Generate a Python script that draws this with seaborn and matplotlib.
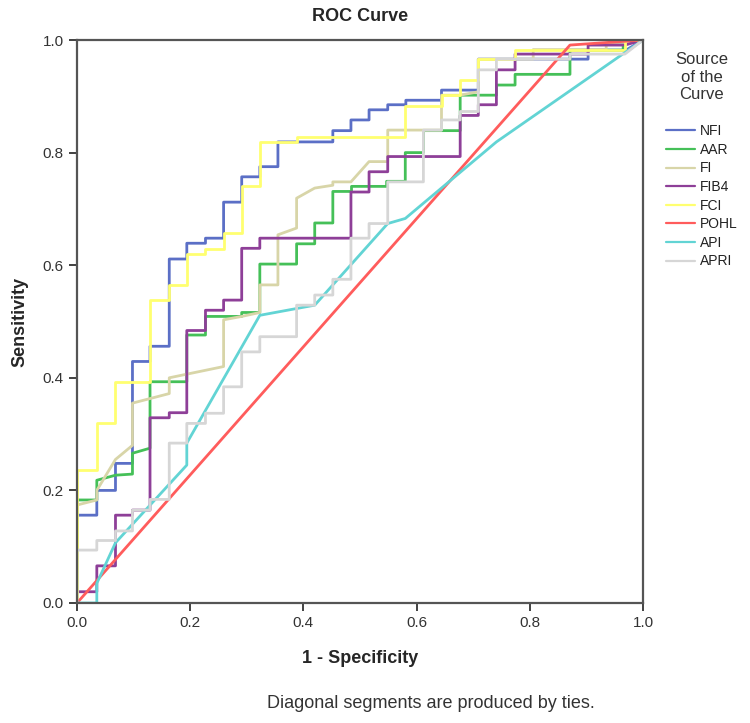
import numpy as np
import pandas as pd
import seaborn as sns
import matplotlib
matplotlib.use("Agg")
import matplotlib.pyplot as plt

# ROC curve vertices (1 - specificity, sensitivity)
nfi_x = [0, 0, 0.035, 0.035, 0.068, 0.068, 0.098, 0.098, 0.129, 0.129, 0.163, 0.163, 0.194, 0.194,
         0.227, 0.227, 0.259, 0.259, 0.291, 0.291, 0.323, 0.323, 0.355, 0.355, 0.452, 0.452, 0.484,
         0.484, 0.516, 0.516, 0.549, 0.549, 0.581, 0.581, 0.644, 0.644, 0.709, 0.709, 0.903, 0.903,
         0.97, 1]
nfi_y = [0, 0.156, 0.156, 0.2, 0.2, 0.248, 0.248, 0.429, 0.429, 0.456, 0.456, 0.611, 0.611, 0.639,
         0.639, 0.648, 0.648, 0.712, 0.712, 0.757, 0.757, 0.775, 0.775, 0.819, 0.819, 0.839, 0.839,
         0.858, 0.858, 0.876, 0.876, 0.885, 0.885, 0.893, 0.893, 0.911, 0.911, 0.966, 0.966, 0.982,
         0.982, 1]

aar_x = [0, 0, 0.035, 0.035, 0.068, 0.098, 0.098, 0.129, 0.129, 0.194, 0.194, 0.227, 0.227, 0.291,
         0.291, 0.323, 0.323, 0.388, 0.388, 0.42, 0.42, 0.452, 0.452, 0.485, 0.485, 0.547, 0.547,
         0.58, 0.58, 0.612, 0.612, 0.677, 0.677, 0.741, 0.741, 0.774, 0.774, 0.871, 0.871, 0.965,
         0.965, 1]
aar_y = [0, 0.183, 0.183, 0.218, 0.227, 0.229, 0.266, 0.275, 0.393, 0.393, 0.476, 0.476, 0.509,
         0.509, 0.516, 0.516, 0.602, 0.602, 0.638, 0.638, 0.675, 0.675, 0.731, 0.731, 0.74, 0.74,
         0.749, 0.749, 0.80, 0.80, 0.839, 0.839, 0.902, 0.902, 0.92, 0.92, 0.939, 0.939, 0.982,
         0.982, 1, 1]

fi_x = [0, 0, 0.035, 0.035, 0.068, 0.098, 0.098, 0.163, 0.163, 0.259, 0.259, 0.291, 0.323, 0.323,
        0.355, 0.355, 0.388, 0.388, 0.42, 0.452, 0.452, 0.484, 0.516, 0.549, 0.549, 0.644, 0.644,
        0.677, 0.709, 0.709, 0.806, 0.806, 0.935, 0.935, 0.968, 1]
fi_y = [0, 0.174, 0.183, 0.2, 0.255, 0.28, 0.355, 0.372, 0.40, 0.42, 0.503, 0.509, 0.516, 0.565,
        0.565, 0.654, 0.666, 0.719, 0.737, 0.742, 0.748, 0.748, 0.784, 0.784, 0.84, 0.84, 0.902,
        0.902, 0.908, 0.966, 0.966, 0.983, 0.983, 0.994, 0.994, 1]

fib4_x = [0, 0, 0.035, 0.035, 0.068, 0.068, 0.098, 0.098, 0.129, 0.129, 0.163, 0.163, 0.194, 0.194,
          0.227, 0.227, 0.259, 0.259, 0.291, 0.291, 0.323, 0.323, 0.484, 0.484, 0.516, 0.516,
          0.549, 0.549, 0.677, 0.677, 0.709, 0.709, 0.741, 0.741, 0.774, 0.774, 0.903, 0.903,
          0.968, 1]
fib4_y = [0, 0.02, 0.02, 0.066, 0.066, 0.156, 0.156, 0.165, 0.165, 0.329, 0.329, 0.338, 0.338,
          0.484, 0.484, 0.52, 0.52, 0.538, 0.538, 0.63, 0.63, 0.648, 0.648, 0.73, 0.73, 0.766,
          0.766, 0.793, 0.793, 0.866, 0.866, 0.885, 0.885, 0.947, 0.947, 0.975, 0.975, 0.991,
          0.991, 1]

fci_x = [0, 0, 0.035, 0.035, 0.068, 0.068, 0.129, 0.129, 0.163, 0.163, 0.194, 0.194, 0.227, 0.227,
         0.259, 0.259, 0.291, 0.291, 0.323, 0.323, 0.388, 0.388, 0.58, 0.58, 0.644, 0.644, 0.677,
         0.677, 0.709, 0.709, 0.774, 0.774, 0.968, 0.968, 1]
fci_y = [0, 0.236, 0.236, 0.319, 0.319, 0.393, 0.393, 0.538, 0.538, 0.565, 0.565, 0.62, 0.62,
         0.629, 0.629, 0.657, 0.657, 0.74, 0.74, 0.819, 0.819, 0.828, 0.828, 0.883, 0.883, 0.902,
         0.902, 0.929, 0.929, 0.966, 0.966, 0.983, 0.983, 1, 1]

pohl_x = [0, 0.871, 1]
pohl_y = [0, 0.991, 1]

api_x = [0, 0.035, 0.035, 0.068, 0.194, 0.194, 0.323, 0.42, 0.549, 0.58, 0.741, 1]
api_y = [0, 0, 0.035, 0.107, 0.245, 0.284, 0.511, 0.529, 0.674, 0.683, 0.819, 1]

apri_x = [0, 0, 0.035, 0.035, 0.068, 0.068, 0.098, 0.098, 0.129, 0.129, 0.163, 0.163, 0.194, 0.194,
          0.227, 0.227, 0.259, 0.259, 0.291, 0.291, 0.323, 0.323, 0.388, 0.388, 0.42, 0.42, 0.452,
          0.452, 0.484, 0.484, 0.516, 0.516, 0.549, 0.549, 0.612, 0.612, 0.644, 0.644, 0.677,
          0.677, 0.709, 0.709, 0.741, 0.741, 0.871, 0.871, 0.968, 1]
apri_y = [0, 0.094, 0.094, 0.111, 0.111, 0.128, 0.128, 0.165, 0.165, 0.184, 0.184, 0.284, 0.284,
          0.319, 0.319, 0.337, 0.337, 0.384, 0.384, 0.446, 0.446, 0.473, 0.473, 0.529, 0.529,
          0.547, 0.547, 0.575, 0.575, 0.648, 0.648, 0.674, 0.674, 0.748, 0.748, 0.84, 0.84, 0.858,
          0.858, 0.873, 0.873, 0.947, 0.947, 0.966, 0.966, 0.975, 0.975, 1]

sources = ["NFI", "AAR", "FI", "FIB4", "FCI", "POHL", "API", "APRI"]
curves = {
    "NFI": (nfi_x, nfi_y),
    "AAR": (aar_x, aar_y),
    "FI": (fi_x, fi_y),
    "FIB4": (fib4_x, fib4_y),
    "FCI": (fci_x, fci_y),
    "POHL": (pohl_x, pohl_y),
    "API": (api_x, api_y),
    "APRI": (apri_x, apri_y),
}
colors = ["#5b6fc6", "#45c058", "#d8d5a8", "#8e3f98", "#ffff70", "#ff5c5c", "#62d4d4", "#d6d6d6"]

frames = []
for name in sources:
    xs, ys = curves[name]
    frames.append(pd.DataFrame({"fpr": xs, "tpr": ys, "source": name}))
df = pd.concat(frames, ignore_index=True)

sns.set_style("white")
plt.rcParams["font.family"] = ["Liberation Sans", "DejaVu Sans"]

fig = plt.figure(figsize=(7.5, 7.23), dpi=100)
ax = fig.add_axes([77 / 750, 1 - 603 / 723, 566 / 750, 563 / 723])

sns.lineplot(data=df, x="fpr", y="tpr", hue="source", hue_order=sources,
             palette=dict(zip(sources, colors)), estimator=None, sort=False,
             linewidth=2, ax=ax, legend=True)

ticks = np.arange(0, 1.01, 0.2)
ax.set_xlim(0, 1)
ax.set_ylim(0, 1)
ax.set_xticks(ticks)
ax.set_yticks(ticks)
ax.set_xticklabels([f"{v:.1f}" for v in ticks])
ax.set_yticklabels([f"{v:.1f}" for v in ticks])
ax.tick_params(axis="both", direction="out", length=6, width=1.3, color="#333333",
               labelsize=11, labelcolor="#333333", bottom=True, left=True, top=False, right=False)
for sp in ax.spines.values():
    sp.set_color("#555555")
    sp.set_linewidth(1.6)

ax.set_xlabel("1 - Specificity", fontsize=13, fontweight="bold", labelpad=14)
ax.set_ylabel("Sensitivity", fontsize=13, fontweight="bold", labelpad=10)
ax.set_title("ROC Curve", fontsize=13, fontweight="bold", pad=14)

handles, labels = ax.get_legend_handles_labels()
for h in handles:
    h.set_linewidth(1.6)
leg = ax.legend(handles, labels, title="Source\nof the\nCurve\n", loc="upper left",
                bbox_to_anchor=(1.019, 1.0), frameon=False, fontsize=10,
                title_fontsize=12, handlelength=2.1, handletextpad=0.3, labelspacing=0.33)
leg.get_title().set_multialignment("center")
leg.get_title().set_color("#333333")
for t in leg.get_texts():
    t.set_color("#222222")

fig.text(431 / 750, 1 - 704 / 723, "Diagonal segments are produced by ties.",
         ha="center", va="center", fontsize=13, color="#333333")

fig.savefig("out.png", dpi=100)
